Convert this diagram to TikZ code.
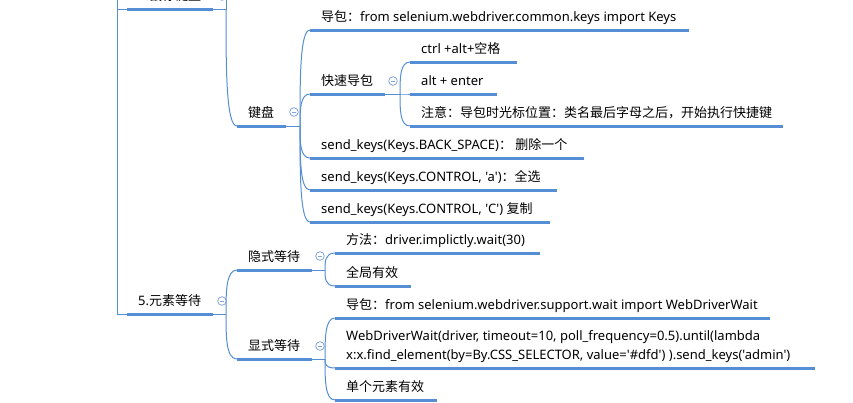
\documentclass[tikz,border=0pt]{standalone}
\usepackage{fontspec}
\setmainfont{Noto Sans}[Ligatures=TeXOff]
\newfontfamily\cjkf{Noto Sans CJK SC}
\newcommand\cj[1]{{\cjkf #1}}
\usetikzlibrary{calc}
\definecolor{branch}{RGB}{85,142,213}
\definecolor{markc}{RGB}{128,163,219}
\newcommand\topic[5]{%
  \coordinate (#1s) at (#2,#4);
  \coordinate (#1e) at (#3,#4);
  \draw[ul] (#1s) -- (#1e);
  \node[lbl] (#1) at (#2+11,#4-8.5) {#5};}
\newcommand\branchto[2]{\draw[conn] (#1) .. controls ($(#1)!0.5!(#1 |- #2)$) and (#1 |- #2) .. (#2);}
\begin{document}
\begin{tikzpicture}[x=1pt,y=-1pt,
  ul/.style={draw=branch,line width=3pt},
  conn/.style={draw=branch,line width=1pt},
  lbl/.style={anchor=base west,inner sep=0pt,font=\fontsize{13}{19}\selectfont},
  fold/.style={circle,draw=markc,line width=0.8pt,minimum size=8.6pt,inner sep=0pt,
     path picture={\draw[markc,line width=0.8pt] ([xshift=-2.3pt]path picture bounding box.center) -- ([xshift=2.3pt]path picture bounding box.center);}}
]
\useasboundingbox (0,0) rectangle (853,402);
\clip (0,0) rectangle (853,402);

% left bracket
\coordinate (rtop) at (117,-10);
\coordinate (b4) at (117,9);
\coordinate (b5) at (117,314);

% topics
\topic{nf}{127}{213}{9}{4.\cj{鼠标键盘}}
\topic{kb}{237}{286}{126}{\cj{键盘}}
\topic{dba}{310}{689}{30}{\cj{导包：}from selenium.webdriver.common.keys import Keys}
\topic{ks}{310}{385}{94}{\cj{快速导包}}
\topic{ctrl}{410}{517}{62}{ctrl +alt+\cj{空格}}
\topic{alt}{410}{497}{94}{alt + enter}
\topic{zy}{410}{783}{126}{\cj{注意：导包时光标位置：类名最后字母之后，开始执行快捷键}}
\topic{bs}{310}{584}{158}{send\_keys(Keys.BACK\_SPACE)\cj{：} \cj{删除一个}}
\topic{ca}{310}{557}{190}{send\_keys(Keys.CONTROL, 'a')\cj{：全选}}
\topic{cc}{310}{550}{222}{send\_keys(Keys.CONTROL, 'C') \cj{复制}}
\topic{nv}{127}{213}{314}{5.\cj{元素等待}}
\topic{ys}{237}{312}{270}{\cj{隐式等待}}
\topic{ff}{335}{540}{253}{\cj{方法：}driver.implictly.wait(30)}
\topic{qj}{335}{411}{286}{\cj{全局有效}}
\topic{xs}{237}{312}{359}{\cj{显式等待}}
\topic{dbb}{335}{770}{318}{\cj{导包：}from selenium.webdriver.support.wait import WebDriverWait}
\coordinate (wdws) at (335,368);
\coordinate (wdwe) at (815,368);
\draw[ul] (wdws) -- (wdwe);
\node[lbl,align=left] (wdw) at (346,359.5) {WebDriverWait(driver, timeout=10, poll\_frequency=0.5).until(lambda\\x:x.find\_element(by=By.CSS\_SELECTOR, value='\#dfd') ).send\_keys('admin')};
\topic{dg}{335}{437}{400}{\cj{单个元素有效}}

% bracket lines
\draw[conn] (rtop) -- (b5) -- (nvs);
\draw[conn] (b4) -- (nfs);

% junctions
\coordinate (jf) at (226,9);
\coordinate (jfup) at (226,-12);
\coordinate (jk) at (300,126);
\coordinate (js) at (400,94);
\coordinate (jv) at (226,314);
\coordinate (jy) at (325,270);
\coordinate (jx) at (325,359);

\draw[conn] (nfe) -- (jf) -- (jfup);
\branchto{jf}{kbs}
\draw[conn] (kbe) -- (jk);
\branchto{jk}{dbas}
\branchto{jk}{kss}
\branchto{jk}{bss}
\branchto{jk}{cas}
\branchto{jk}{ccs}
\draw[conn] (kse) -- (js);
\branchto{js}{ctrls}
\branchto{js}{alts}
\branchto{js}{zys}
\draw[conn] (nve) -- (jv);
\branchto{jv}{yss}
\branchto{jv}{xss}
\draw[conn] (yse) -- (jy);
\branchto{jy}{ffs}
\branchto{jy}{qjs}
\draw[conn] (xse) -- (jx);
\branchto{jx}{dbbs}
\branchto{jx}{wdws}
\branchto{jx}{dgs}

% fold marks
\node[fold] (ff4) at (222,-4) {};
\node[fold] (fkb) at (294,112) {};
\node[fold] (fks) at (393,81) {};
\node[fold] (fnv) at (222,301) {};
\node[fold] (fys) at (320,256) {};
\node[fold] (fxs) at (320,346) {};
\end{tikzpicture}
\end{document}
